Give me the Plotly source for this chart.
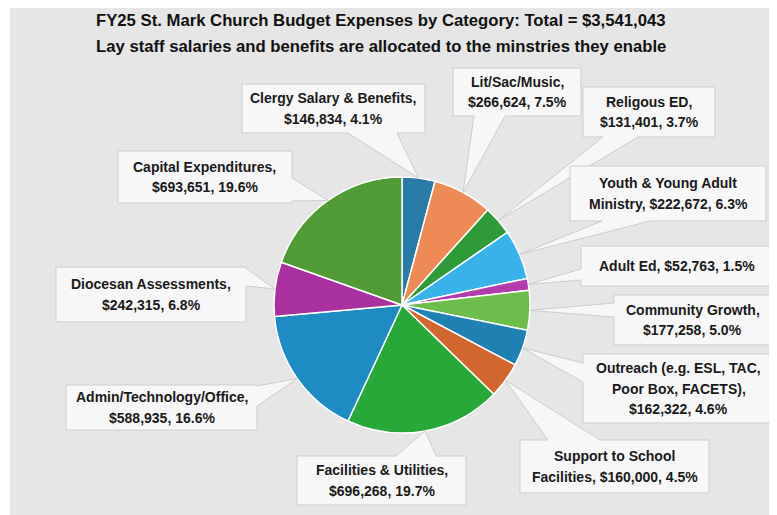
import math
import plotly.graph_objects as go

# ---------------- data ----------------
categories = [
    "Clergy Salary & Benefits", "Lit/Sac/Music", "Religous ED",
    "Youth & Young Adult Ministry", "Adult Ed", "Community Growth",
    "Outreach (e.g. ESL, TAC, Poor Box, FACETS)", "Support to School Facilities",
    "Facilities & Utilities", "Admin/Technology/Office",
    "Diocesan Assessments", "Capital Expenditures",
]
amounts = [146834, 266624, 131401, 222672, 52763, 177258,
           162322, 160000, 696268, 588935, 242315, 693651]
# label line templates ({v} = amount, {p} = percent)
label_templates = [
    "Clergy Salary & Benefits,|{v}, {p}",
    "Lit/Sac/Music,|{v}, {p}",
    "Religous ED,|{v}, {p}",
    "Youth & Young Adult|Ministry, {v}, {p}",
    "Adult Ed, {v}, {p}",
    "Community Growth,|{v}, {p}",
    "Outreach (e.g. ESL, TAC,|Poor Box, FACETS),|{v}, {p}",
    "Support to School|Facilities, {v}, {p}",
    "Facilities & Utilities,|{v}, {p}",
    "Admin/Technology/Office,|{v}, {p}",
    "Diocesan Assessments,|{v}, {p}",
    "Capital Expenditures,|{v}, {p}",
]
colors = ["#2a7ca8", "#ee8a55", "#2e9a38", "#38b2e8", "#b23cab", "#6cbd4c",
          "#1f80b2", "#d2662f", "#27a838", "#1e8bc2", "#a8309f", "#509b35"]

title_line1 = "FY25 St. Mark Church Budget Expenses by Category: Total = $3,541,043"
title_line2 = "Lay staff salaries and benefits are allocated to the minstries they enable"

# ---------------- layout constants (page pixels) ----------------
OX, OY = 8, 8            # page body margin
W, H = 777 - OX, 515 - OY
CX, CY, R = 402, 305, 128

# callout boxes: (x0, y0, x1, y1), edge with pointer, pointer base (a, b)
callouts = [
    ((242, 84, 425, 133), "bottom", (348, 397)),
    ((453, 68, 581, 116), "bottom", (474, 505)),
    ((583, 87, 715, 137), "bottom", (603, 638)),
    ((570, 166, 766, 221), "bottom", (602, 650)),
    ((581, 246, 772, 286), "left", (269, 280)),
    ((614, 295, 771, 345), "left", (303, 317)),
    ((583, 354, 774, 423), "left", (363, 382)),
    ((520, 440, 709, 493), "top", (548, 600)),
    ((297, 456, 466, 505), "top", (396, 436)),
    ((66, 385, 257, 430), "right", (386, 406)),
    ((56, 267, 246, 322), "right", (268, 286)),
    ((118, 151, 292, 203), "right", (178, 201)),
]


def px(x):
    return (x - OX) / W


def py(y):
    return 1 - (y - OY) / H


total = sum(amounts)
fig = go.Figure()
fig.add_trace(go.Pie(
    labels=categories, values=amounts, sort=False, direction="clockwise",
    rotation=0, textinfo="none", hoverinfo="label+value+percent",
    marker=dict(colors=colors, line=dict(color="white", width=1.5)),
    domain=dict(x=[px(CX - R), px(CX + R)], y=[py(CY + R), py(CY - R)]),
    showlegend=False,
))

shapes = []
annotations = []
cum = 0.0
for i, amt in enumerate(amounts):
    frac = amt / total
    mid = (cum + frac / 2) * 2 * math.pi
    cum += frac
    tx, ty = CX + R * math.sin(mid), CY - R * math.cos(mid)
    (x0, y0, x1, y1), edge, (a, b) = callouts[i]
    if edge == "bottom":
        pts = [(x0, y0), (x1, y0), (x1, y1), (max(a, b), y1), (tx, ty), (min(a, b), y1), (x0, y1)]
    elif edge == "top":
        pts = [(x0, y0), (min(a, b), y0), (tx, ty), (max(a, b), y0), (x1, y0), (x1, y1), (x0, y1)]
    elif edge == "left":
        pts = [(x0, y0), (x1, y0), (x1, y1), (x0, y1), (x0, max(a, b)), (tx, ty), (x0, min(a, b))]
    else:  # right
        pts = [(x0, y0), (x1, y0), (x1, min(a, b)), (tx, ty), (x1, max(a, b)), (x1, y1), (x0, y1)]
    path = "M " + " L ".join(f"{px(x):.5f},{py(y):.5f}" for x, y in pts) + " Z"
    shapes.append(dict(type="path", xref="paper", yref="paper", path=path,
                       fillcolor="#f7f7f7", line=dict(color="#cdcdcd", width=1),
                       layer="above"))
    text = label_templates[i].format(v=f"${amt:,}", p=f"{frac * 100:.1f}%")
    lines = text.split("|")
    n = len(lines)
    cyb = (y0 + y1) / 2
    cxb = (x0 + x1) / 2
    step = 20.5
    for k, ln in enumerate(lines):
        yy = cyb + (k - (n - 1) / 2) * step
        annotations.append(dict(
            x=px(cxb), y=py(yy), xref="paper", yref="paper", text=f"<b>{ln}</b>",
            showarrow=False, xanchor="center", yanchor="middle",
            font=dict(family="Liberation Sans, Arial, sans-serif", size=14, color="#1a1a1a"),
        ))

for yy, t in [(20, title_line1), (47, title_line2)]:
    annotations.append(dict(
        x=px(381), y=py(yy), xref="paper", yref="paper", text=f"<b>{t}</b>",
        showarrow=False, xanchor="center", yanchor="middle",
        font=dict(family="Liberation Sans, Arial, sans-serif", size=16.7, color="#111111"),
    ))

# background panel
shapes.insert(0, dict(type="rect", xref="paper", yref="paper", x0=px(10), x1=1,
                      y0=0, y1=1, fillcolor="#e6e6e6", line=dict(width=0),
                      layer="below"))

fig.update_layout(
    width=W, height=H, margin=dict(l=0, r=0, t=0, b=0),
    paper_bgcolor="white", plot_bgcolor="white",
    shapes=shapes, annotations=annotations,
)
fig.write_html("out.html")
